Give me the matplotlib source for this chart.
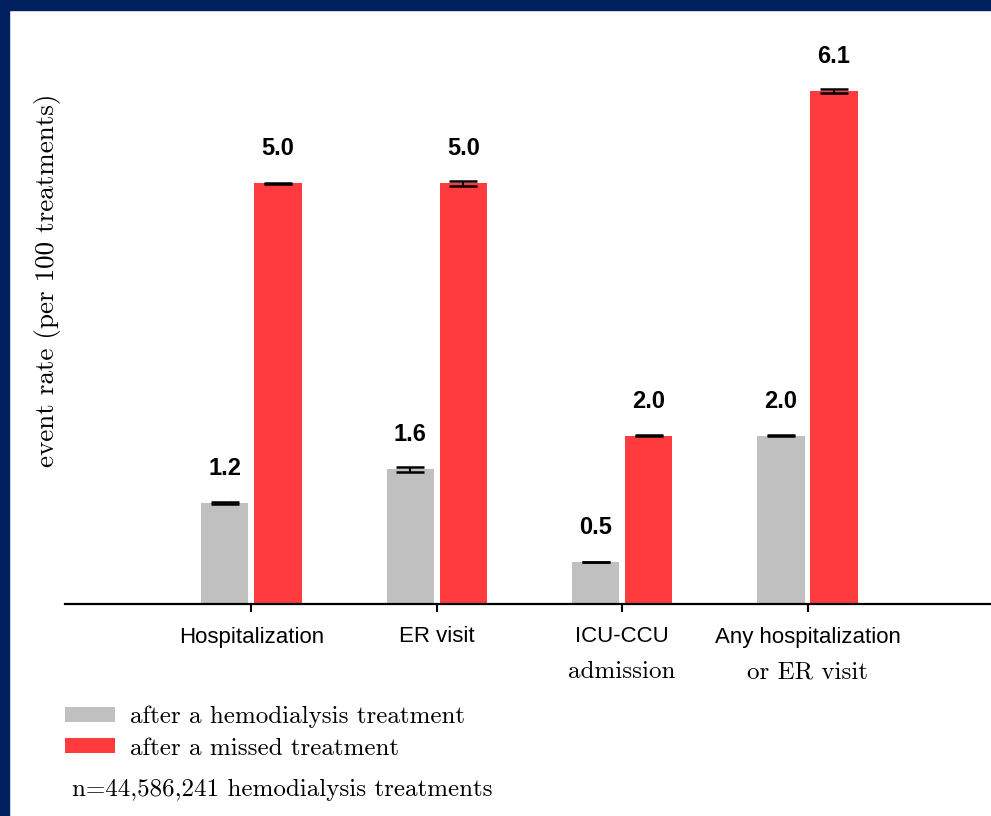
import numpy as np
import matplotlib.pyplot as plt
import matplotlib.transforms as mtransforms
from matplotlib.patches import Rectangle

# data
cat_line1 = ["Hospitalization", "ER visit", "ICU-CCU", "Any hospitalization"]
cat_line2 = ["", "", "admission", "or ER visit"]
after_hd = [1.2, 1.6, 0.5, 2.0]
after_missed = [5.0, 5.0, 2.0, 6.1]
err_hd = [0.01, 0.03, 0.005, 0.005]
err_missed = [0.01, 0.03, 0.005, 0.02]
legend_labels = ["after a hemodialysis treatment", "after a missed treatment"]
footnote = "n=44,586,241 hemodialysis treatments"

gray = "#c0c0c0"
red = "#ff3b3e"
navy = "#00205f"
serif = ["cmr10", "DejaVu Serif"]
sans = ["Liberation Sans", "DejaVu Sans"]
plt.rcParams["axes.formatter.use_mathtext"] = True

W, H = 991, 816
fig = plt.figure(figsize=(W / 100, H / 100), dpi=100, facecolor="white")

# navy frame top and left
fig.patches.append(Rectangle((0, 1 - 10 / H), 1, 10 / H, transform=fig.transFigure,
                             color=navy, zorder=-1))
fig.patches.append(Rectangle((0, 0), 9 / W, 1, transform=fig.transFigure,
                             color=navy, zorder=-1))

ax = fig.add_axes([65 / W, 212 / H, (W - 65) / W, 564 / H])
x = np.arange(len(cat_line1))
w = 0.254
off = 0.143
ekw = dict(ecolor="black", elinewidth=1.5, capsize=10, capthick=1.8)
b1 = ax.bar(x - off, after_hd, w, color=gray, yerr=err_hd, error_kw=ekw,
            label=legend_labels[0])
b2 = ax.bar(x + off, after_missed, w, color=red, yerr=err_missed, error_kw=ekw,
            label=legend_labels[1])

for bars, vals in ((b1, after_hd), (b2, after_missed)):
    for r, v in zip(bars, vals):
        ax.annotate(f"{v:.1f}", (r.get_x() + r.get_width() / 2, v),
                    xytext=(0, 25), textcoords="offset points",
                    ha="center", va="center", fontsize=17, fontweight="bold",
                    family=sans)

ax.set_xlim(-1.006, 3.99)
ax.set_ylim(0, 564 / 84.1)
for s in ["top", "right", "left"]:
    ax.spines[s].set_visible(False)
ax.spines["bottom"].set_linewidth(1.6)
ax.set_yticks([])
ax.set_xticks(x)
ax.set_xticklabels([])
ax.tick_params(axis="x", direction="out", length=6, width=1.5)

trans = mtransforms.blended_transform_factory(ax.transData, fig.transFigure)
for i in x:
    ax.text(i, 1 - 637 / H, cat_line1[i], transform=trans, ha="center",
            va="center", fontsize=16, family=sans)
    if cat_line2[i]:
        ax.text(i, 1 - 672 / H, cat_line2[i], transform=trans, ha="center",
                va="center", fontsize=18, family=serif)

fig.text(48 / W, 1 - 280 / H, "event rate (per 100 treatments)", rotation=90,
         ha="center", va="center", fontsize=19.5, family=serif)

fig.legend(handles=[b1, b2], labels=legend_labels, loc="upper left",
           bbox_to_anchor=(65 / W, 1 - 706 / H), frameon=False,
           prop={"family": serif, "size": 18}, handlelength=2.0,
           handleheight=0.56, handletextpad=0.6, labelspacing=0.36,
           borderpad=0, borderaxespad=0)

fig.text(72 / W, 1 - 790 / H, footnote, ha="left", va="center", fontsize=18,
         family=serif)

fig.savefig("out.png", dpi=100, facecolor=fig.get_facecolor())
